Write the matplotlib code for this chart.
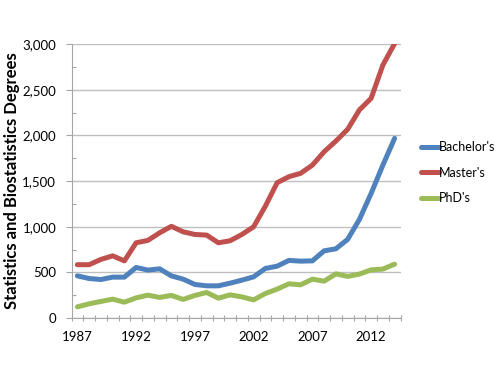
import numpy as np
import matplotlib.pyplot as plt
from matplotlib.ticker import FuncFormatter, MultipleLocator

plt.rcParams['font.family'] = ['Lato', 'DejaVu Sans']

# Data
years = list(range(1987, 2015))
bachelors = [463, 434, 423, 449, 449, 555, 526, 540, 463, 427, 369, 354, 354, 383,
             416, 452, 544, 569, 632, 624, 627, 737, 759, 862, 1080, 1365, 1675, 1968]
masters = [585, 585, 643, 682, 627, 825, 851, 934, 1005, 945, 916, 909, 825, 847,
           916, 1000, 1226, 1482, 1548, 1585, 1675, 1821, 1938, 2066, 2278, 2406, 2770, 3005]
phds = [124, 157, 183, 208, 175, 222, 252, 227, 249, 205, 249, 281, 219, 255,
        233, 200, 270, 318, 376, 365, 427, 405, 485, 457, 482, 529, 537, 591]

series = [("Bachelor's", bachelors, '#4F81BD'),
          ("Master's", masters, '#C0504D'),
          ("PhD's", phds, '#9BBB59')]

fig = plt.figure(figsize=(5, 3.73), dpi=100)
ax = fig.add_axes([0.143, 0.147, 0.658, 0.735])

x = np.arange(len(years))
for name, vals, col in series:
    ax.plot(x, vals, color=col, lw=3.6, solid_capstyle='round',
            solid_joinstyle='round', label=name)

ax.set_xlim(-0.5, len(years) - 0.5)
ax.set_ylim(0, 3000)

# y axis
ax.yaxis.set_major_locator(MultipleLocator(500))
ax.yaxis.set_minor_locator(MultipleLocator(250))
ax.yaxis.set_major_formatter(FuncFormatter(lambda v, p: f'{int(v):,}'))
ax.yaxis.grid(True, which='major', color='#BFBFBF', lw=1)
ax.set_axisbelow(True)
ax.tick_params(axis='y', which='major', length=4, width=0.8, color='#A6A6A6',
               labelsize=9.5, pad=7)
ax.tick_params(axis='y', which='minor', length=3, width=0.8, color='#A6A6A6',
               direction='in')

# x axis: tick marks between categories, labels every 5 years
ax.set_xticks(x[::5])
ax.set_xticklabels([str(y) for y in years[::5]])
ax.set_xticks(np.arange(-0.5, len(years)), minor=True)
ax.tick_params(axis='x', which='major', length=0, labelsize=9.5, pad=9)
ax.tick_params(axis='x', which='minor', length=4, width=0.8, color='#A6A6A6',
               direction='inout')

for s in ['top', 'right']:
    ax.spines[s].set_visible(False)
for s in ['left', 'bottom']:
    ax.spines[s].set_color('#A6A6A6')
    ax.spines[s].set_linewidth(0.8)

ax.set_ylabel('Statistics and Biostatistics Degrees', fontsize=12,
              fontweight='bold', labelpad=2)

leg = fig.legend(loc='center left', bbox_to_anchor=(0.842, 0.537), frameon=False,
                 fontsize=9, handlelength=1.45, handletextpad=0.0,
                 labelspacing=1.1, borderpad=0, borderaxespad=0)
for h in leg.get_lines():
    h.set_linewidth(3.6)

fig.savefig('out.png', dpi=100)
